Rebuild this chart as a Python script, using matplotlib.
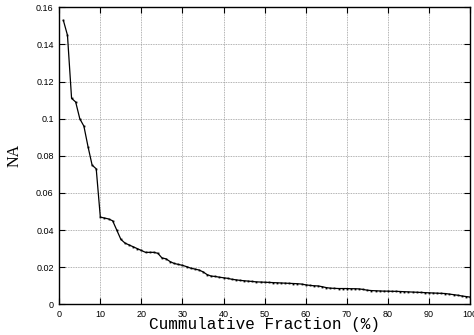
import matplotlib
matplotlib.use("Agg")
import matplotlib.pyplot as plt
from matplotlib.ticker import FuncFormatter

fraction = list(range(1, 101))
na_values = [
    0.153, 0.145, 0.111, 0.109, 0.100, 0.096, 0.085, 0.075, 0.073, 0.047,
    0.0465, 0.046, 0.045, 0.040, 0.035, 0.033, 0.032, 0.031, 0.030, 0.029,
    0.028, 0.028, 0.028, 0.0275, 0.025, 0.0245, 0.023, 0.022, 0.0215, 0.021,
    0.0203, 0.0195, 0.019, 0.0185, 0.0175, 0.016, 0.0152, 0.015, 0.0146, 0.0143,
    0.014, 0.0135, 0.0132, 0.0129, 0.0127, 0.0125, 0.0123, 0.0121, 0.012, 0.0119,
    0.0118, 0.0117, 0.0116, 0.0115, 0.0114, 0.0113, 0.0112, 0.0111, 0.0109, 0.0105,
    0.0102, 0.0100, 0.0099, 0.0095, 0.0090, 0.0087, 0.0086, 0.0085, 0.0085, 0.0085,
    0.0084, 0.0084, 0.0083, 0.0080, 0.0076, 0.0074, 0.0073, 0.0072, 0.0071, 0.0071,
    0.0070, 0.0070, 0.0069, 0.0068, 0.0067, 0.0066, 0.0065, 0.0064, 0.0063, 0.0062,
    0.0061, 0.0060, 0.0059, 0.0058, 0.0055, 0.0052, 0.0049, 0.0045, 0.0042, 0.0039,
]
xticks = [0, 10, 20, 30, 40, 50, 60, 70, 80, 90, 100]
yticks = [0, 0.02, 0.04, 0.06, 0.08, 0.1, 0.12, 0.14, 0.16]

fig = plt.figure(figsize=(4.74, 3.35), dpi=100)
ax = fig.add_axes([0.125, 0.0916, 0.8666, 0.8864])
ax.plot(fraction, na_values, color="black", linewidth=0.9, marker="s",
        markersize=1.3, markerfacecolor="black", markeredgewidth=0)
ax.set_xlim(0, 100)
ax.set_ylim(0, 0.16)
ax.set_xticks(xticks)
ax.set_yticks(yticks)
ax.yaxis.set_major_formatter(FuncFormatter(lambda v, p: "%g" % round(v, 4)))
ax.grid(True, color="#999999", linestyle=(0, (1, 1)), linewidth=0.6)
ax.tick_params(direction="in", top=True, right=True, length=4, width=0.8,
               labelsize=6.5, pad=4)
for lab in ax.get_xticklabels() + ax.get_yticklabels():
    lab.set_family("Liberation Sans")
for s in ax.spines.values():
    s.set_linewidth(1.0)
ax.set_xlabel("Cummulative Fraction (%)", family="Liberation Mono", fontsize=11.5, labelpad=-1)
ax.set_ylabel("NA", family="Liberation Serif", fontsize=11.5, labelpad=10)
fig.savefig("out.png", dpi=100)
